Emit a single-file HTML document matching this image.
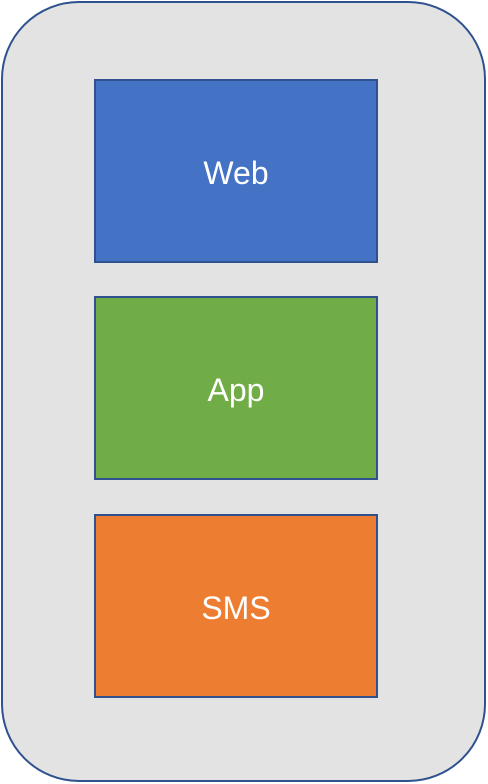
<!DOCTYPE html>
<html><head><style>
html,body{margin:0;padding:0;background:#fff;width:488px;height:784px;overflow:hidden}
.outer{position:absolute;left:1px;top:1px;width:485px;height:781px;box-sizing:border-box;border:2px solid #2f528f;border-radius:78px;background:#e3e3e3}
.b{position:absolute;left:94px;width:284px;height:184px;box-sizing:border-box;border:2px solid #2f528f;color:#fff;font-family:"Liberation Sans",sans-serif;font-size:32px;display:flex;align-items:center;justify-content:center;padding-top:5px}
</style></head><body>
<div class="outer"></div>
<div class="b" style="top:79px;background:#4472c4">Web</div>
<div class="b" style="top:296px;background:#70ad47">App</div>
<div class="b" style="top:514px;background:#ed7d31">SMS</div>
</body></html>
